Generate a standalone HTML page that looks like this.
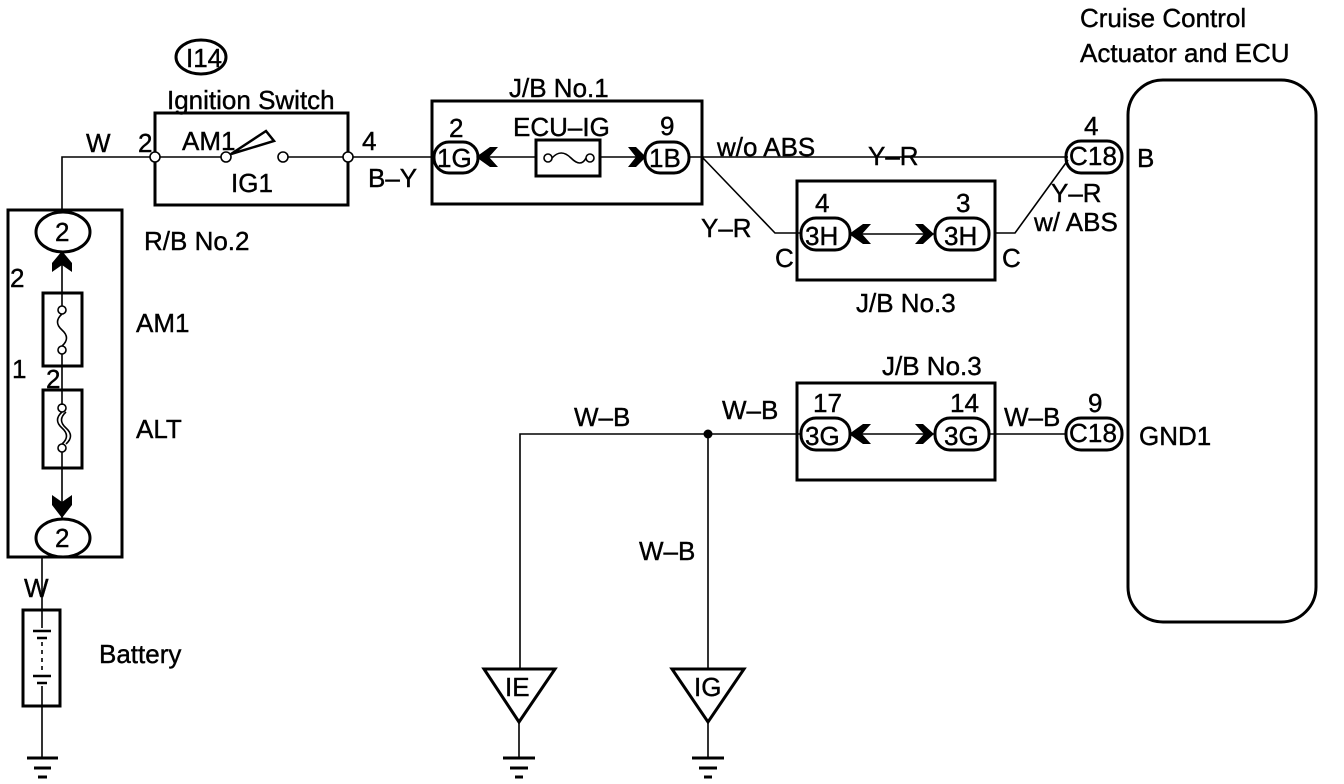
<!DOCTYPE html>
<html><head><meta charset="utf-8"><style>
html,body{margin:0;padding:0;background:#fff}
svg{display:block}
text{font-family:"Liberation Sans",sans-serif;font-size:26px;fill:#000;stroke:#000;stroke-width:0.4}
</style></head><body>
<svg width="1344" height="784" viewBox="0 0 1344 784" xmlns="http://www.w3.org/2000/svg">
<g fill="none" stroke="#000" stroke-width="1.6">
<ellipse cx="201" cy="57" rx="25" ry="17" stroke-width="3"/>
<rect x="155" y="113" width="193" height="92" stroke-width="3"/>
<path d="M62 212 V157 H150 M160 157 H221 M288 157 H343 M353 157 H432"/>
<circle cx="155" cy="157" r="5" fill="#fff"/>
<circle cx="226" cy="157" r="5" fill="#fff"/>
<circle cx="283" cy="157" r="5" fill="#fff"/>
<circle cx="348" cy="157" r="5" fill="#fff"/>
<path d="M231 154 L266 131 L274 141 Z" stroke-width="2.5"/>
<rect x="432" y="101" width="270" height="103" stroke-width="3"/>
<rect x="434" y="142" width="44" height="31" rx="15" stroke-width="3"/>
<rect x="645" y="142" width="44" height="31" rx="15" stroke-width="3"/>
<rect x="536" y="140" width="64" height="36" stroke-width="3"/>
<path d="M488 157 H536 M600 157 H645"/>
<circle cx="548" cy="158" r="4"/><circle cx="590" cy="158" r="4"/>
<path d="M552 158 q9 -10 19 0 t15 0"/>
<path d="M689 157 H1068 M702 157 L775 233 H800 M995 233 H1015 L1068 160"/>
<rect x="797" y="181" width="198" height="99" stroke-width="3"/>
<rect x="801" y="218" width="49" height="32" rx="15" stroke-width="3"/>
<rect x="935" y="218" width="54" height="32" rx="15" stroke-width="3"/>
<path d="M860 234 H935"/>
<rect x="1066" y="141" width="56" height="32" rx="15" stroke-width="3"/>
<rect x="1066" y="418" width="56" height="32" rx="15" stroke-width="3"/>
<rect x="1128" y="80" width="188" height="542" rx="35" stroke-width="3"/>
<rect x="797" y="383" width="198" height="97" stroke-width="3"/>
<rect x="801" y="418" width="49" height="32" rx="15" stroke-width="3"/>
<rect x="935" y="418" width="54" height="32" rx="15" stroke-width="3"/>
<path d="M860 434 H935 M520 668 V434 H801 M708 434 V668 M989 434 H1066"/>
<path d="M484 669 H555 L519 722 Z" stroke-width="3"/>
<path d="M672 669 H744 L708 722 Z" stroke-width="3"/>
<path d="M519 722 V758 M708 722 V758"/>
<path d="M503 758 H535 M510 768 H528 M515 777 H523" stroke-width="3"/>
<path d="M692 758 H724 M699 768 H717 M704 777 H712" stroke-width="3"/>
<rect x="8" y="210" width="114" height="347" stroke-width="3"/>
<ellipse cx="63" cy="232" rx="27" ry="20" stroke-width="3"/>
<ellipse cx="63" cy="538" rx="27" ry="19" stroke-width="3"/>
<rect x="43" y="293" width="39" height="73" stroke-width="3"/>
<rect x="43" y="390" width="39" height="78" stroke-width="3"/>
<path d="M62 262 V306 M62 354 V405 M62 452 V518"/>
<circle cx="62" cy="310" r="4"/><circle cx="62" cy="350" r="4"/>
<path d="M62 314 q-9 8 0 16 t0 16"/>
<circle cx="62" cy="408" r="4"/><circle cx="62" cy="448" r="4"/>
<path d="M62 412 q-9 8 0 16 t0 16 M66 412 q-9 8 0 16 t0 16"/>
<path d="M42 557 V609 M42 706 V758"/>
<rect x="23" y="610" width="37" height="96" stroke-width="3"/>
<path d="M33 631 H51 M37 638 H47 M33 676 H51 M37 683 H47" stroke-width="2.5"/>
<path d="M42 609 V628 M42 686 V706"/>
<path d="M42 642 V672" stroke-dasharray="4 4"/>
<path d="M27 758 H58 M34 768 H51 M38 777 H47" stroke-width="3"/>
</g>
<g fill="#000">
<path d="M476 157 L490 147 L498 147 L489 157 L498 167 L490 167 Z"/>
<path d="M628 147 L636 147 L646 157 L636 167 L628 167 L636 157 Z"/>
<path d="M849 234 L863 224 L871 224 L862 234 L871 244 L863 244 Z"/>
<path d="M915 224 L923 224 L934 234 L923 244 L915 244 L924 234 Z"/>
<path d="M849 434 L863 424 L871 424 L862 434 L871 444 L863 444 Z"/>
<path d="M915 424 L923 424 L934 434 L923 444 L915 444 L924 434 Z"/>
<path d="M62 251 L72 263 L72 272 L62 265 L52 272 L52 263 Z"/>
<path d="M52 495 L62 502 L72 495 L72 505 L62 518 L52 505 Z"/>
<circle cx="708" cy="434" r="4.5"/>
</g>
<text x="186" y="67" font-size="24">I14</text>
<text x="167" y="109">Ignition Switch</text>
<text x="86" y="152">W</text>
<text x="138" y="152">2</text>
<text x="182" y="150">AM1</text>
<text x="231" y="192">IG1</text>
<text x="362" y="150">4</text>
<text x="368" y="187">B–Y</text>
<text x="509" y="97">J/B No.1</text>
<text x="449" y="137">2</text>
<text x="513" y="136">ECU–IG</text>
<text x="660" y="135">9</text>
<text x="437" y="167" font-size="24">1G</text>
<text x="649" y="167" font-size="24">1B</text>
<text x="717" y="156">w/o ABS</text>
<text x="868" y="165">Y–R</text>
<text x="1080" y="27">Cruise Control</text>
<text x="1080" y="62">Actuator and ECU</text>
<text x="1084" y="135">4</text>
<text x="1069" y="165" font-size="20" textLength="48">C18</text>
<text x="1137" y="167">B</text>
<text x="1051" y="202">Y–R</text>
<text x="1034" y="231">w/ ABS</text>
<text x="701" y="237">Y–R</text>
<text x="815" y="212">4</text>
<text x="956" y="212">3</text>
<text x="805" y="245" font-size="24">3H</text>
<text x="944" y="245" font-size="24">3H</text>
<text x="775" y="267">C</text>
<text x="1002" y="267">C</text>
<text x="856" y="312">J/B No.3</text>
<text x="882" y="375">J/B No.3</text>
<text x="813" y="412">17</text>
<text x="950" y="412">14</text>
<text x="805" y="445" font-size="24">3G</text>
<text x="944" y="445" font-size="24">3G</text>
<text x="1088" y="412">9</text>
<text x="1069" y="442" font-size="20" textLength="48">C18</text>
<text x="1139" y="445">GND1</text>
<text x="1004" y="426">W–B</text>
<text x="574" y="426">W–B</text>
<text x="722" y="419">W–B</text>
<text x="639" y="560">W–B</text>
<text x="505" y="696" font-size="19">IE</text>
<text x="694" y="696" font-size="19">IG</text>
<text x="144" y="250">R/B No.2</text>
<text x="55" y="241" font-size="24">2</text>
<text x="55" y="547" font-size="24">2</text>
<text x="10" y="287">2</text>
<text x="136" y="332">AM1</text>
<text x="12" y="378">1</text>
<text x="46" y="388">2</text>
<text x="136" y="438">ALT</text>
<text x="24" y="597">W</text>
<text x="99" y="663">Battery</text>
</svg>
</body></html>
